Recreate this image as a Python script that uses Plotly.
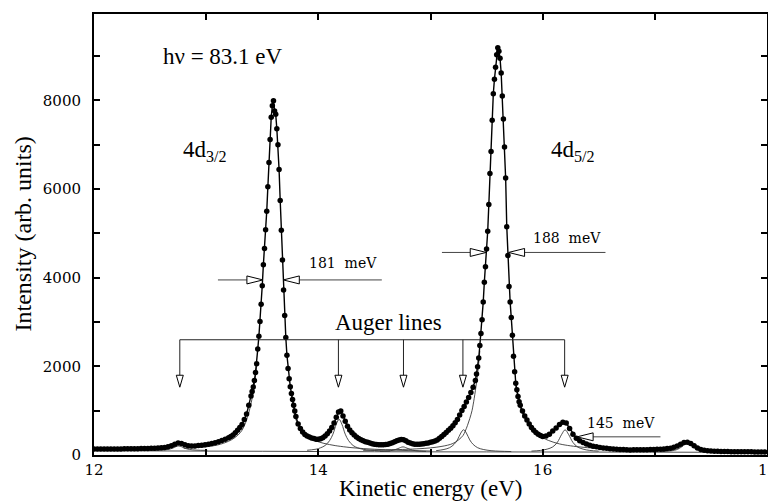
import plotly.graph_objects as go

# ---------------- measured spectrum (kinetic energy in eV, intensity in arb. units) ----------------
e_seg1 = [12.00, 12.03, 12.06, 12.09, 12.12, 12.15, 12.18, 12.21, 12.24, 12.27, 12.30, 12.33, 12.36, 12.39,
          12.42, 12.45, 12.48, 12.51, 12.54, 12.57, 12.60, 12.63, 12.66, 12.69, 12.72, 12.75, 12.78, 12.81,
          12.84, 12.87, 12.90, 12.93, 12.96, 12.99, 13.02, 13.05, 13.08, 13.11, 13.14, 13.17, 13.20]
i_seg1 = [134, 135, 135, 135, 136, 136, 136, 137, 138, 139, 139, 140, 141, 142,
          145, 145, 148, 150, 154, 157, 164, 172, 184, 208, 242, 271, 259, 230,
          210, 202, 204, 212, 219, 231, 245, 259, 279, 299, 325, 356, 391]

e_seg2 = [13.22, 13.24, 13.26, 13.28, 13.30, 13.32, 13.34, 13.36, 13.38, 13.40]
i_seg2 = [420, 450, 500, 560, 620, 690, 800, 925, 1120, 1330]

e_seg3 = [13.41, 13.42, 13.43, 13.44, 13.45, 13.46, 13.47, 13.48, 13.49, 13.50, 13.51, 13.52, 13.53,
          13.54, 13.55, 13.56, 13.57, 13.58, 13.59, 13.60, 13.61, 13.62, 13.63, 13.64, 13.65, 13.66,
          13.67, 13.68, 13.69, 13.70, 13.71, 13.72, 13.73, 13.74, 13.75, 13.76, 13.77, 13.78, 13.79]
i_seg3 = [1430, 1535, 1680, 1860, 2060, 2390, 2680, 3010, 3400, 3820, 4290, 4660, 5080,
          5500, 6050, 6600, 7120, 7620, 7880, 7990, 7760, 7690, 7360, 7000, 6440, 5740,
          5070, 4400, 3720, 3150, 2650, 2250, 1950, 1720, 1540, 1390, 1250, 1120, 990]

e_seg4 = [13.80, 13.82, 13.84, 13.86, 13.88, 13.90, 13.92, 13.94, 13.96, 13.98, 14.00]
i_seg4 = [870, 700, 600, 520, 465, 430, 405, 385, 370, 358, 355]

e_seg5 = [14.02, 14.04, 14.06, 14.08, 14.10, 14.12, 14.14, 14.16, 14.18, 14.20, 14.22, 14.24, 14.26,
          14.28, 14.30, 14.32, 14.34, 14.36, 14.38, 14.40, 14.42, 14.44, 14.46, 14.48, 14.50, 14.52,
          14.54, 14.56, 14.58, 14.60, 14.62, 14.64, 14.66, 14.68, 14.70, 14.72, 14.74, 14.76, 14.78,
          14.80, 14.82, 14.84, 14.86, 14.88, 14.90, 14.92, 14.94, 14.96, 14.98, 15.00]
i_seg5 = [365, 390, 430, 480, 540, 620, 720, 850, 970, 990, 880, 760, 650,
          565, 500, 450, 408, 372, 345, 320, 300, 285, 268, 255, 245, 238,
          232, 230, 232, 236, 245, 258, 275, 298, 320, 338, 348, 345, 322,
          290, 268, 252, 244, 242, 245, 250, 256, 263, 272, 285]

e_seg6 = [15.02, 15.04, 15.06, 15.08, 15.10, 15.12, 15.14, 15.16, 15.18, 15.20, 15.22, 15.24, 15.26,
          15.28, 15.30, 15.32, 15.34, 15.36, 15.38, 15.40]
i_seg6 = [300, 318, 340, 378, 418, 462, 508, 556, 605, 660, 725, 800, 900,
          1005, 1095, 1195, 1300, 1410, 1530, 1680]

e_seg7 = [15.41, 15.42, 15.43, 15.44, 15.45, 15.46, 15.47, 15.48, 15.49, 15.50, 15.51, 15.52, 15.53,
          15.54, 15.55, 15.56, 15.57, 15.58, 15.59, 15.60, 15.61, 15.62, 15.63, 15.64, 15.65, 15.66,
          15.67, 15.68, 15.69, 15.70, 15.71, 15.72, 15.73, 15.74, 15.75, 15.76, 15.77, 15.78, 15.79]
i_seg7 = [1830, 1990, 2190, 2470, 2740, 3050, 3450, 3900, 4250, 4650, 5050, 5650, 6350,
          6850, 7550, 8150, 8480, 8750, 9030, 9190, 9110, 8950, 8620, 8100, 7580, 6950,
          6250, 5150, 4500, 3800, 3450, 3100, 2700, 2230, 1880, 1620, 1470, 1320, 1200]

e_seg8 = [15.80, 15.82, 15.84, 15.86, 15.88, 15.90, 15.92, 15.94, 15.96, 15.98, 16.00]
i_seg8 = [1120, 990, 880, 790, 700, 620, 560, 510, 470, 440, 420]

e_seg9 = [16.03, 16.06, 16.09, 16.12, 16.15, 16.18, 16.21, 16.24, 16.27, 16.30, 16.33, 16.36, 16.39,
          16.42, 16.45, 16.48, 16.51, 16.54, 16.57, 16.60, 16.63, 16.66, 16.69, 16.72, 16.75, 16.78,
          16.81, 16.84, 16.87, 16.90, 16.93, 16.96, 16.99, 17.02, 17.05, 17.08, 17.11, 17.14, 17.17,
          17.20, 17.23, 17.26, 17.29, 17.32, 17.35, 17.38, 17.41, 17.44, 17.47, 17.50, 17.53, 17.56,
          17.59, 17.62, 17.65, 17.68, 17.71, 17.74, 17.77, 17.80, 17.83, 17.86, 17.89, 17.92, 17.95, 17.98]
i_seg9 = [430, 470, 540, 610, 690, 740, 720, 600, 470, 380, 320, 280, 250,
          220, 200, 185, 170, 158, 150, 142, 136, 130, 126, 122, 118, 115,
          116, 118, 120, 118, 120, 122, 125, 128, 132, 138, 145, 155, 175,
          205, 245, 280, 290, 260, 210, 160, 125, 105, 95, 88, 84, 82,
          80, 78, 78, 76, 75, 74, 73, 72, 72, 71, 70, 70, 69, 68]

energy_ev = e_seg1 + e_seg2 + e_seg3 + e_seg4 + e_seg5 + e_seg6 + e_seg7 + e_seg8 + e_seg9
intensity = i_seg1 + i_seg2 + i_seg3 + i_seg4 + i_seg5 + i_seg6 + i_seg7 + i_seg8 + i_seg9
assert len(energy_ev) == len(intensity)

# ---------------- fitted components (thin lines, each on top of the background) ----------------
bg_e = [12.0, 12.5, 13.0, 13.5, 14.0, 14.5, 15.0, 15.5, 16.0, 16.5, 17.0, 17.5, 18.0]
bg_i = [95, 92, 88, 84, 78, 74, 71, 70, 68, 66, 64, 62, 60]

p1_left_e = [12.80, 12.90, 13.00, 13.10, 13.20, 13.26, 13.32, 13.38, 13.42, 13.45]
p1_left_i = [150, 165, 185, 225, 310, 400, 560, 950, 1430, 2000]
p1_right_e = [13.76, 13.80, 13.85, 13.90, 13.95, 14.00, 14.05, 14.10, 14.15, 14.20, 14.30, 14.40,
              14.50, 14.60, 14.70, 14.80, 14.90, 15.00]
p1_right_i = [1350, 800, 555, 420, 345, 298, 262, 235, 212, 194, 165, 145, 130, 118, 108, 100, 95, 90]

p2_left_e = [14.40, 14.60, 14.80, 14.95, 15.05, 15.15, 15.20, 15.25, 15.29, 15.31, 15.33, 15.35,
             15.37, 15.38, 15.40, 15.42, 15.44]
p2_left_i = [105, 115, 130, 150, 175, 220, 260, 340, 440, 540, 670, 820, 1000, 1130, 1450, 1830, 2350]
p2_right_e = [15.76, 15.80, 15.85, 15.90, 15.95, 16.00, 16.05, 16.10, 16.15, 16.20, 16.30, 16.40,
              16.50, 16.60, 16.80, 17.00]
p2_right_i = [1560, 1060, 800, 610, 475, 390, 330, 285, 250, 225, 190, 165, 148, 135, 118, 108]

a1_e = [12.50, 12.60, 12.66, 12.70, 12.73, 12.755, 12.78, 12.81, 12.85, 12.91, 13.01]
a1_i = [104, 111, 126, 153, 187, 203, 187, 153, 126, 111, 104]
a2_e = [13.90, 13.94, 13.98, 14.02, 14.06, 14.10, 14.13, 14.16, 14.185, 14.21, 14.24, 14.27, 14.31,
        14.35, 14.40, 14.46, 14.54, 14.64]
a2_i = [107, 117, 131, 163, 214, 323, 469, 695, 805, 695, 469, 323, 214, 163, 128, 109, 96, 87]
a3_e = [14.55, 14.62, 14.67, 14.71, 14.755, 14.80, 14.84, 14.89, 14.96]
a3_i = [81, 91, 110, 145, 183, 145, 110, 91, 81]
a4_e = [15.05, 15.12, 15.17, 15.21, 15.24, 15.27, 15.295, 15.32, 15.35, 15.38, 15.42, 15.47, 15.54,
        15.62, 15.72]
a4_i = [98, 125, 165, 240, 340, 495, 570, 495, 340, 240, 165, 125, 98, 85, 78]
a5_e = [15.90, 15.98, 16.04, 16.09, 16.13, 16.17, 16.20, 16.23, 16.27, 16.31, 16.36, 16.42, 16.50]
a5_i = [88, 103, 133, 183, 283, 468, 568, 468, 283, 183, 133, 103, 88]
a6_e = [17.05, 17.15, 17.20, 17.24, 17.27, 17.29, 17.31, 17.34, 17.38, 17.43, 17.53]
a6_i = [76, 95, 125, 185, 245, 265, 245, 185, 125, 95, 76]

components = [(bg_e, bg_i), (p1_left_e, p1_left_i), (p1_right_e, p1_right_i),
              (p2_left_e, p2_left_i), (p2_right_e, p2_right_i),
              (a1_e, a1_i), (a2_e, a2_i), (a3_e, a3_i), (a4_e, a4_i), (a5_e, a5_i), (a6_e, a6_i)]

# ---------------- axis ticks ----------------
x_tickvals = [12, 14, 16]
x_ticktext = ["12", "14", "16"]
x_edge_tick = 18
x_edge_label = "18"   # last tick label, drawn as text so it can run into the window edge
y_tickvals = [0, 2000, 4000, 6000, 8000]
y_ticktext = ["0", "2000", "4000", "6000", "8000"]

# ---------------- annotation geometry (eV / intensity) ----------------
auger_energies = [12.765, 14.179, 14.759, 15.289, 16.196]
auger_bracket_level = 2600
auger_arrow_tip = 1530
fwhm_arrows = [  # (tail energy, tip energy, level)
    (13.105, 13.506, 3950), (14.566, 13.6875, 3950),
    (15.102, 15.497, 4570), (16.560, 15.696, 4570),
    (17.050, 16.307, 410),
]

SERIF = "Liberation Serif"
fig = go.Figure()

for ce, ci in components:
    fig.add_trace(go.Scatter(x=ce, y=ci, mode="lines", line=dict(color="#3a3a3a", width=0.9, shape="spline"),
                             hoverinfo="skip", showlegend=False))

fig.add_trace(go.Scatter(x=energy_ev, y=intensity, mode="lines+markers",
                         line=dict(color="black", width=1.4),
                         marker=dict(color="black", size=5.5),
                         showlegend=False))

shapes = []
px_e = 1.0 / 112.0        # eV per pixel (approx)
px_i = 9950.0 / 443.0     # intensity units per pixel (approx)

# Auger bracket
shapes.append(dict(type="line", xref="x", yref="y", x0=auger_energies[0], x1=auger_energies[-1],
                   y0=auger_bracket_level, y1=auger_bracket_level, line=dict(color="#222", width=1)))
head_len_v = 12 * px_i
head_hw_v = 3.5 * px_e
for ae in auger_energies:
    base = auger_arrow_tip + head_len_v
    shapes.append(dict(type="line", xref="x", yref="y", x0=ae, x1=ae, y0=auger_bracket_level, y1=base,
                       line=dict(color="#222", width=1)))
    shapes.append(dict(type="path", xref="x", yref="y",
                       path=f"M {ae - head_hw_v},{base} L {ae + head_hw_v},{base} L {ae},{auger_arrow_tip} Z",
                       fillcolor="white", line=dict(color="black", width=1)))

head_len_h = 16 * px_e
head_hw_h = 4 * px_i
for tail, tip, lvl in fwhm_arrows:
    sgn = 1 if tip > tail else -1
    base = tip - sgn * head_len_h
    shapes.append(dict(type="line", xref="x", yref="y", x0=tail, x1=base, y0=lvl, y1=lvl,
                       line=dict(color="#444", width=1)))
    shapes.append(dict(type="path", xref="x", yref="y",
                       path=f"M {base},{lvl - head_hw_h} L {base},{lvl + head_hw_h} L {tip},{lvl} Z",
                       fillcolor="white", line=dict(color="black", width=1)))

annotations = [
    dict(x=13.154, y=8984, text="hν = 83.1 eV", font=dict(size=23)),
    dict(x=12.99, y=6850, text="4d<sub>3/2</sub>", font=dict(size=23)),
    dict(x=16.266, y=6850, text="4d<sub>5/2</sub>", font=dict(size=23)),
    dict(x=14.624, y=2994, text="Auger lines", font=dict(size=23)),
    dict(x=14.216, y=4335, text="181\u00a0\u00a0meV", font=dict(size=14, family="DejaVu Serif")),
    dict(x=16.221, y=4896, text="188\u00a0\u00a0meV", font=dict(size=14, family="DejaVu Serif")),
    dict(x=16.694, y=719, text="145\u00a0\u00a0meV", font=dict(size=14, family="DejaVu Serif")),
]
for a in annotations:
    a.update(xref="x", yref="y", showarrow=False, xanchor="center", yanchor="middle")
    f = a["font"]
    f.setdefault("family", SERIF)
    f["color"] = "black"

annotations.append(dict(xref="x", yref="paper", x=x_edge_tick, y=0, yshift=-15, showarrow=False,
                        text=x_edge_label, xanchor="center", yanchor="middle",
                        font=dict(family="DejaVu Serif", size=15, color="black")))
annotations.append(dict(xref="paper", yref="paper", x=0.5, y=0, yshift=-33, showarrow=False,
                        text="Kinetic energy (eV)", xanchor="center", yanchor="middle",
                        font=dict(family=SERIF, size=23, color="black")))
annotations.append(dict(xref="paper", yref="paper", x=0, y=0.5, xshift=-72, showarrow=False,
                        text="Intensity (arb. units)", textangle=-90, xanchor="center", yanchor="middle",
                        font=dict(family=SERIF, size=24, color="black")))

tick_style = dict(ticks="inside", ticklen=6, tickwidth=2, tickcolor="black")
# The page body adds an 8 px margin, so the figure is sized to fill the rest of the window.
fig.update_layout(
    width=768, height=495,
    margin=dict(l=86, r=9, t=4, b=48),
    paper_bgcolor="white", plot_bgcolor="white",
    shapes=shapes, annotations=annotations,
    xaxis=dict(range=[12, 18], tickvals=x_tickvals, ticktext=x_ticktext, **tick_style,
               minor=dict(ticks="inside", ticklen=6, tickwidth=2, tickcolor="black", dtick=1, tick0=12),
               showline=True, linewidth=2, linecolor="black",
               mirror="ticks", showgrid=False, zeroline=False, ticklabelstandoff=0,
               tickfont=dict(family="DejaVu Serif", size=15, color="black")),
    yaxis=dict(range=[0, 9950], tickvals=y_tickvals, ticktext=y_ticktext, **tick_style,
               minor=dict(ticks="inside", ticklen=6, tickwidth=2, tickcolor="black", dtick=1000, tick0=0),
               showline=True, linewidth=2, linecolor="black",
               mirror="ticks", showgrid=False, zeroline=False, ticklabelstandoff=8,
               tickfont=dict(family="DejaVu Serif", size=15, color="black")),
)

fig.write_html("out.html")
